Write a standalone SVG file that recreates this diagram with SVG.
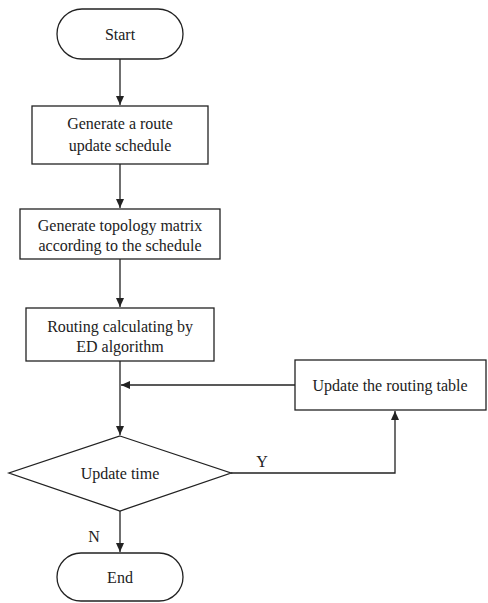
<svg xmlns="http://www.w3.org/2000/svg" width="488" height="603" viewBox="0 0 488 603">
<style>
.s{fill:#fff;stroke:#222;stroke-width:1.3}
.c{fill:none;stroke:#222;stroke-width:1.3}
text{font-family:"Liberation Serif","Times New Roman",serif;font-size:16px;fill:#222}
.m{text-anchor:middle}
</style>
<defs>
<marker id="a" markerWidth="10" markerHeight="10" refX="9" refY="5" orient="auto" markerUnits="userSpaceOnUse">
<path d="M0,1 L9,5 L0,9 Z" fill="#222"/>
</marker>
</defs>
<rect width="488" height="603" fill="#fff"/>
<g id="connectors">
<line class="c" x1="120" y1="59" x2="120" y2="105" marker-end="url(#a)"/>
<line class="c" x1="120" y1="164" x2="120" y2="208" marker-end="url(#a)"/>
<line class="c" x1="120" y1="259" x2="120" y2="307" marker-end="url(#a)"/>
<line class="c" x1="120" y1="361" x2="120" y2="435" marker-end="url(#a)"/>
<line class="c" x1="295" y1="385" x2="121" y2="385" marker-end="url(#a)"/>
<polyline class="c" points="231,473 395,473 395,411" marker-end="url(#a)"/>
<line class="c" x1="120" y1="511" x2="120" y2="552" marker-end="url(#a)"/>
<text x="262" y="467" class="m">Y</text>
<text x="94" y="542" class="m">N</text>
</g>
<g id="start">
<rect class="s" x="57" y="9" width="126" height="50" rx="25"/>
<text x="120" y="40" class="m">Start</text>
</g>
<g id="gen-schedule">
<rect class="s" x="32" y="106" width="176" height="58"/>
<text x="120" y="129" class="m">Generate a route</text>
<text x="120" y="151" class="m">update schedule</text>
</g>
<g id="gen-matrix">
<rect class="s" x="20" y="209" width="200" height="50"/>
<text x="120" y="231" class="m">Generate topology matrix</text>
<text x="120" y="251" class="m">according to the schedule</text>
</g>
<g id="routing">
<rect class="s" x="26" y="308" width="188" height="53"/>
<text x="120" y="332" class="m">Routing calculating by</text>
<text x="120" y="352" class="m">ED algorithm</text>
</g>
<g id="update-table">
<rect class="s" x="295" y="360" width="191" height="50"/>
<text x="390" y="391" class="m">Update the routing table</text>
</g>
<g id="decision">
<polygon class="s" points="120,436 231,473 120,511 9,473"/>
<text x="120" y="479" class="m">Update time</text>
</g>
<g id="end">
<rect class="s" x="57" y="553" width="126" height="48" rx="24"/>
<text x="120" y="583" class="m">End</text>
</g>
</svg>
